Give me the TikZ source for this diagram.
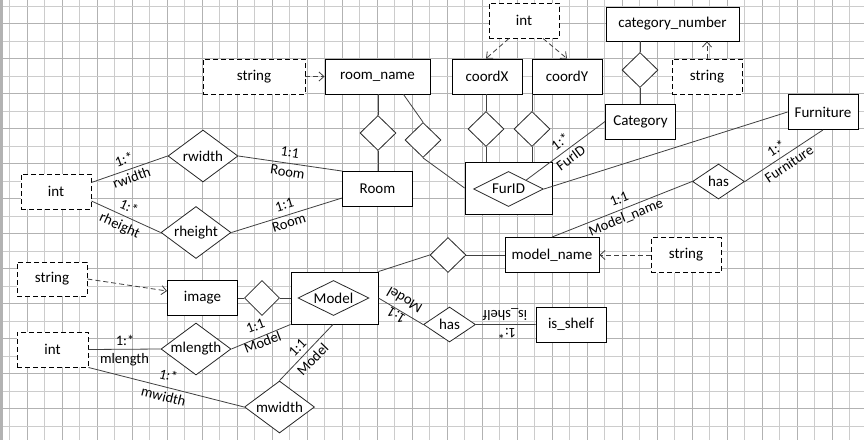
\documentclass[tikz,border=0pt]{standalone}
\usepackage{fontspec}
\setmainfont{Carlito}
\usetikzlibrary{arrows.meta,shapes.geometric,calc}
\begin{document}
\begin{tikzpicture}[x=1pt,y=-1pt,
  gridA/.style={draw=black!20,line width=0.7pt},
  gridB/.style={draw=black!30,line width=0.7pt},
  ent/.style={draw=black,line width=0.9pt,rectangle,inner sep=0pt,minimum width=70pt,minimum height=35pt,fill=white,font=\fontsize{15}{18}\selectfont},
  attr/.style={ent,dash pattern=on 5pt off 3pt},
  rel/.style={draw=black!85,line width=0.8pt,diamond,inner sep=0pt,fill=white,font=\fontsize{15}{18}\selectfont},
  bigrel/.style={rel,minimum width=70pt,minimum height=52pt,aspect=1.346},
  sdia/.style={rel,minimum width=36pt,minimum height=35pt},
  conn/.style={draw=black!75,line width=0.8pt},
  dasharrow/.style={conn,dash pattern=on 5pt off 3pt,-{Straight Barb[length=5pt,width=9pt]}},
  lbl/.style={font=\fontsize{14.5}{16}\selectfont,inner sep=0pt}
]
\useasboundingbox (0,0) rectangle (864,440);
\fill[white] (0,0) rectangle (864,440);
% grid
\foreach \i in {0,2,...,48} {\draw[gridA] ({9.5+17.5*\i},0) -- ({9.5+17.5*\i},440);}
\foreach \i in {1,3,...,49} {\draw[gridB] ({9.5+17.5*\i},0) -- ({9.5+17.5*\i},440);}
\foreach \j in {0,2,...,24} {\draw[gridA] (0,{6+17.5*\j}) -- (864,{6+17.5*\j});}
\foreach \j in {1,3,...,25} {\draw[gridB] (0,{6+17.5*\j}) -- (864,{6+17.5*\j});}
\fill[black!30] (0,0) rectangle (2.5,440);

% entities
\node[ent,minimum width=105pt] (roomname) at (377.5,76.5) {room\_name};
\node[ent] (coordX) at (487,76.5) {coordX};
\node[ent] (coordY) at (567,76.5) {coordY};
\node[ent,minimum width=133pt,minimum height=34pt] (catnum) at (672.5,24) {category\_number};
\node[ent] (category) at (640.5,121.5) {Category};
\node[ent] (furniture) at (823,112) {Furniture};
\node[ent] (room) at (377.5,189) {Room};
\node[ent,minimum width=87pt,minimum height=52pt] (furbox) at (508.5,188) {};
\node[rel,minimum width=70pt,minimum height=35pt,aspect=2] (furdia) at (508.5,189) {FurID};
\node[ent,minimum width=94pt] (modelname) at (552,255) {model\_name};
\node[ent] (image) at (202.5,298) {image};
\node[ent,minimum width=87pt,minimum height=52pt] (modelbox) at (334.5,298) {};
\node[rel,minimum width=71pt,minimum height=35pt,aspect=2] (modeldia) at (333.5,298) {Model};
\node[ent] (isshelf) at (571,324.5) {is\_shelf};

% attributes
\node[attr,minimum width=102pt] (str1) at (254,76.5) {string};
\node[attr] (inttop) at (524,20.5) {int};
\node[attr] (strcat) at (707,76.5) {string};
\node[attr] (introom) at (56,191.5) {int};
\node[attr] (strmn) at (686,255) {string};
\node[attr,minimum height=34pt] (strimg) at (52,279) {string};
\node[attr,minimum width=71pt] (intmodel) at (52.5,349.5) {int};

% small diamonds
\node[sdia] (d1) at (378,133) {};
\node[sdia] (d2) at (423,140) {};
\node[sdia] (d3) at (486,129) {};
\node[sdia] (d4) at (532,129) {};
\node[sdia] (d5) at (640,70) {};
\node[sdia,minimum width=35pt] (d6) at (262,298) {};
\node[sdia] (d7) at (448,255) {};

% named relationships
\node[bigrel] (rwidth) at (203,156) {rwidth};
\node[bigrel] (rheight) at (196,232.5) {rheight};
\node[bigrel] (mlength) at (196,349) {mlength};
\node[bigrel] (mwidth) at (279.5,407) {mwidth};
\node[rel,minimum width=52pt,minimum height=35pt,aspect=1.49] (has1) at (718.5,181.5) {has};
\node[rel,minimum width=52pt,minimum height=35pt,aspect=1.49] (has2) at (449.5,324.5) {has};

% connectors
\draw[dasharrow] (str1) -- (roomname);
\draw[dasharrow] ([xshift=-15pt]inttop.south) -- ([xshift=-1pt]coordX.north);
\draw[dasharrow] ([xshift=19pt]inttop.south) -- (coordY.north);
\draw[dasharrow] (strcat.north) -- (strcat.north |- catnum.south);
\draw[conn] (d1.north |- roomname.south) -- (d1.north) (d1.south) -- (d1.south |- room.north);
\draw[conn] ([xshift=26pt]roomname.south) -- (d2.north) (d2.south) -- (furbox.west);
\draw[conn] (d3.north |- coordX.south) -- (d3.north) (d3.south) -- (d3.south |- furbox.north);
\draw[conn] (d4.north |- coordY.south) -- (d4.north) (d4.south) -- (d4.south |- furbox.north);
\draw[conn] (d5.north |- catnum.south) -- (d5.north) (d5.south) -- (d5.south |- category.north);
\coordinate (fcat) at ($(furdia.north)!0.5!(furdia.east)$);
\draw[conn] (fcat) -- (category.west);
\draw[conn] (furdia.east) -- (furniture.west);
\draw[conn] (furniture.south) -- (has1.east);
\draw[conn] (has1.west) -- (modelname.north);
\draw[dasharrow] (strmn) -- (modelname);
\draw[conn] (d7.east) -- (modelname.west);
\draw[conn] (modelbox.north east) -- (d7.west);
\draw[conn] (modelbox.east) -- (has2.west) (has2.east) -- (isshelf.west);
\draw[conn] (image.east) -- (d6.west) (d6.east) -- (modelbox.west);
\draw[dasharrow] (strimg.east) -- ([yshift=7pt]image.west);
\draw[conn] ([yshift=9pt]introom.east) -- (rwidth.west);
\draw[conn] ([yshift=-9.5pt]introom.east) -- (rheight.west);
\draw[conn] (rwidth.east) -- (room.north west);
\draw[conn] (rheight.east) -- ([yshift=-9pt]room.west);
\draw[conn] (intmodel.east) -- (mlength.west);
\draw[conn] (intmodel.south east) -- (mwidth.west);
\draw[conn] (mlength.east) -- (modelbox.south west);
\draw[conn] (mwidth.north) -- ([xshift=-1.5pt]modelbox.south);

% labels
\node[lbl,rotate=36.5] (la1) at (560,141.5) {1:*};
\node[lbl,rotate=36.5] (la2) at (571,158) {FurID};
\node[lbl,rotate=33.7] (lb1) at (776,148.5) {1:*};
\node[lbl,rotate=33.7] (lb2) at (789,164) {Furniture};
\node[lbl,rotate=22] (lc1) at (619,199) {1:1};
\node[lbl,rotate=22] (lc2) at (626,217.5) {Model\_name};
\node[lbl,rotate=20] (ld1) at (124,159.5) {1:*};
\node[lbl,rotate=20] (ld2) at (131.5,177.5) {rwidth};
\node[lbl,rotate=-24] (le1) at (129,207) {1:*};
\node[lbl,rotate=-24] (le2) at (119.5,226) {rheight};
\node[lbl,rotate=-8.6] (lf1) at (290,152.5) {1:1};
\node[lbl,rotate=-8.6] (lf2) at (287.5,172) {Room};
\node[lbl,rotate=17] (lg1) at (284.5,205) {1:1};
\node[lbl,rotate=17] (lg2) at (289,223) {Room};
\node[lbl] (lh1) at (125,340.5) {1:*};
\node[lbl] (lh2) at (124.5,359.5) {mlength};
\node[lbl,rotate=-14] (li1) at (168.5,375.5) {1:*};
\node[lbl,rotate=-14] (li2) at (163.5,396.5) {mwidth};
\node[lbl,rotate=21] (lj1) at (255.5,326) {1:1};
\node[lbl,rotate=21] (lj2) at (262.5,342) {Model};
\node[lbl,rotate=46] (lk1) at (297.5,347.5) {1:1};
\node[lbl,rotate=46] (lk2) at (312.5,359.5) {Model};
\node[lbl,rotate=149.5] (ll1) at (404.5,300.5) {Model};
\node[lbl,rotate=149.5] (ll2) at (396.5,315.5) {1:1};
\node[lbl,rotate=180] (lm1) at (505,314.5) {is\_shelf};
\node[lbl,rotate=180] (lm2) at (507,334) {1:*};
\end{tikzpicture}
\end{document}
